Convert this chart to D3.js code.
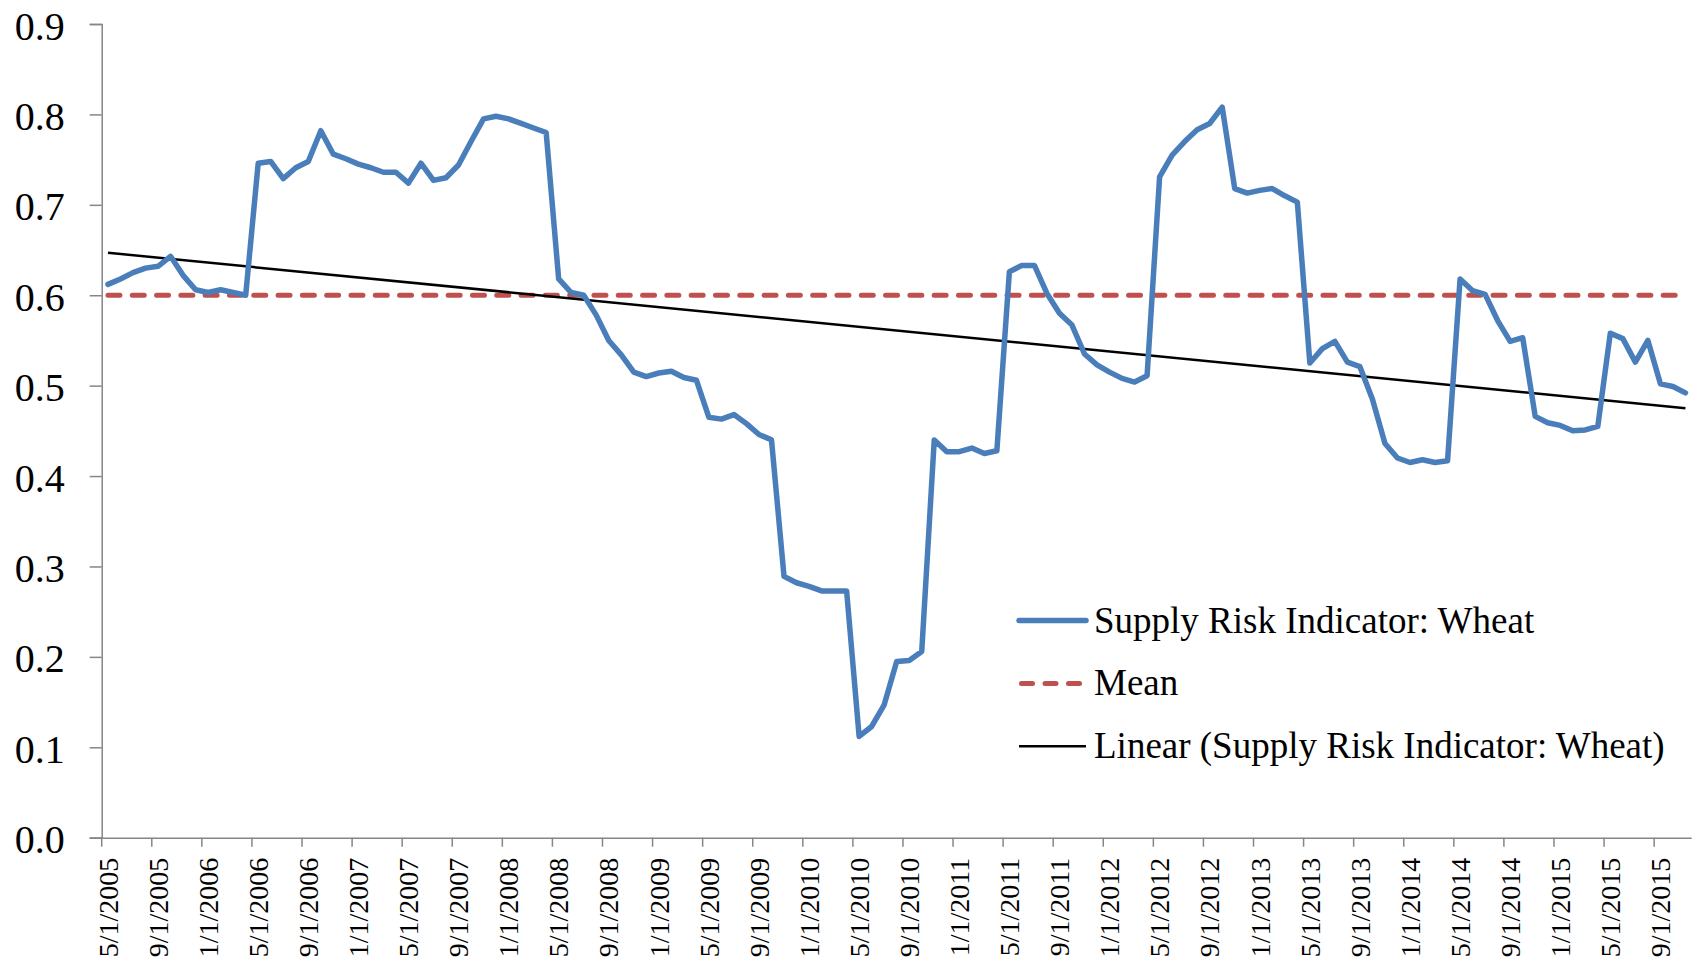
<!DOCTYPE html>
<html>
<head>
<meta charset="utf-8">
<script src="https://cdn.jsdelivr.net/npm/d3@7"></script>
<style>
  html, body { margin: 0; padding: 0; background: #fff; }
  svg { display: block; font-family: "Liberation Serif", "Times New Roman", serif; }
</style>
</head>
<body>
<div id="chart"></div>
<script>
// monthly supply risk indicator, 5/2005 .. 11/2015
const wheat = [
  0.612, 0.618, 0.625, 0.630, 0.632, 0.643, 0.622, 0.606, 0.603, 0.606, 0.603, 0.600,
  0.746, 0.748, 0.729, 0.741, 0.748, 0.782, 0.756, 0.751, 0.745, 0.741, 0.736, 0.736,
  0.724, 0.746, 0.727, 0.730, 0.744, 0.770, 0.795, 0.798, 0.795, 0.790, 0.785, 0.780,
  0.618, 0.603, 0.600, 0.578, 0.550, 0.534, 0.515, 0.510, 0.514, 0.516, 0.509, 0.506,
  0.465, 0.463, 0.468, 0.458, 0.446, 0.440, 0.289, 0.282, 0.278, 0.273, 0.273, 0.273,
  0.112, 0.123, 0.147, 0.195, 0.196, 0.206, 0.440, 0.427, 0.427, 0.431, 0.425, 0.428,
  0.626, 0.633, 0.633, 0.602, 0.580, 0.567, 0.535, 0.523, 0.515, 0.508, 0.504, 0.511,
  0.731, 0.755, 0.770, 0.783, 0.790, 0.808, 0.718, 0.713, 0.716, 0.718, 0.710, 0.703,
  0.525, 0.541, 0.549, 0.526, 0.521, 0.485, 0.436, 0.420, 0.415, 0.418, 0.415, 0.417,
  0.618, 0.605, 0.601, 0.572, 0.549, 0.553, 0.466, 0.459, 0.456, 0.450, 0.451, 0.455,
  0.558, 0.552, 0.526, 0.550, 0.502, 0.499, 0.492
];
const meanValue = 0.6;
// trend line end values
const trendStart = 0.647;
const trendEnd = 0.475;

const tickLabels = [
  "5/1/2005", "9/1/2005", "1/1/2006", "5/1/2006", "9/1/2006", "1/1/2007", "5/1/2007", "9/1/2007",
  "1/1/2008", "5/1/2008", "9/1/2008", "1/1/2009", "5/1/2009", "9/1/2009", "1/1/2010", "5/1/2010",
  "9/1/2010", "1/1/2011", "5/1/2011", "9/1/2011", "1/1/2012", "5/1/2012", "9/1/2012", "1/1/2013",
  "5/1/2013", "9/1/2013", "1/1/2014", "5/1/2014", "9/1/2014", "1/1/2015", "5/1/2015", "9/1/2015"
];
const yTicks = [0, 0.1, 0.2, 0.3, 0.4, 0.5, 0.6, 0.7, 0.8, 0.9];
const legendNames = ["Supply Risk Indicator: Wheat", "Mean", "Linear (Supply Risk Indicator: Wheat)"];

const months = d3.range(wheat.length);

const w = 1698, h = 964;
const plotLeft = 101.7, plotRight = 1691.7, plotTop = 24, plotBottom = 837.7;
const axisColor = "#868686";

const svg = d3.select("#chart").append("svg")
  .attr("width", w).attr("height", h)
  .attr("viewBox", `0 0 ${w} ${h}`);

const xScale = d3.scaleBand().domain(months).range([plotLeft, plotRight]).padding(0);
const xMid = i => xScale(i) + xScale.bandwidth() / 2;
const yScale = d3.scaleLinear().domain([0, 0.9]).range([plotBottom, plotTop]);

// y axis
const yAxis = d3.axisLeft(yScale).tickValues(yTicks).tickSize(12).tickFormat(d3.format(".1f"));
const gy = svg.append("g").attr("transform", `translate(${plotLeft},0)`).call(yAxis);
gy.select(".domain").attr("stroke", axisColor).attr("stroke-width", 1.5);
gy.selectAll(".tick line").attr("stroke", axisColor).attr("stroke-width", 1.5);
gy.selectAll(".tick text")
  .attr("x", -37).attr("dy", "15px")
  .attr("fill", "#000")
  .style("font-family", "'Liberation Serif', serif")
  .style("font-size", "40px");

// x axis: ticks every 4 months at the band start
const tickIdx = tickLabels.map((d, i) => i * 4);
const xAxis = d3.axisBottom(xScale).tickValues(tickIdx).tickSize(9).tickSizeOuter(0)
  .tickFormat((d, i) => tickLabels[i]);
const gx = svg.append("g").attr("transform", `translate(0,${plotBottom})`).call(xAxis);
gx.select(".domain").attr("stroke", axisColor).attr("stroke-width", 1.5)
  .attr("d", `M${plotLeft - 12},0.5H${plotRight}`);
gx.selectAll(".tick").attr("transform", d => `translate(${xScale(d)},0)`);
gx.selectAll(".tick line").attr("stroke", axisColor).attr("stroke-width", 1.5);
gx.selectAll(".tick text")
  .attr("fill", "#000")
  .attr("y", 0).attr("dy", 0)
  .attr("transform", "translate(16,20) rotate(-90)")
  .attr("text-anchor", "end")
  .style("font-family", "'Liberation Serif', serif")
  .style("font-size", "28px");

// mean line
svg.append("line")
  .attr("x1", xMid(0)).attr("x2", xMid(months.length - 1))
  .attr("y1", yScale(meanValue)).attr("y2", yScale(meanValue))
  .attr("stroke", "#C0504D").attr("stroke-width", 5)
  .attr("stroke-dasharray", "12,12.3").attr("stroke-linecap", "round");

// trend line
svg.append("line")
  .attr("x1", xMid(0)).attr("x2", xMid(months.length - 1))
  .attr("y1", yScale(trendStart)).attr("y2", yScale(trendEnd))
  .attr("stroke", "#000").attr("stroke-width", 2.5);

// series
const line = d3.line().x((d, i) => xMid(i)).y(d => yScale(d));
svg.append("path")
  .datum(wheat)
  .attr("d", line)
  .attr("fill", "none")
  .attr("stroke", "#4A7EBB")
  .attr("stroke-width", 5.5)
  .attr("stroke-linejoin", "round")
  .attr("stroke-linecap", "round");

// legend
const legend = svg.append("g").attr("transform", "translate(1019,620.6)");
const rowGap = 62.8;
legendNames.forEach((name, i) => {
  const g = legend.append("g").attr("transform", `translate(0,${i * rowGap})`);
  const sample = g.append("line").attr("x1", 0).attr("x2", 67).attr("y1", 0).attr("y2", 0);
  if (i === 0) {
    sample.attr("stroke", "#4A7EBB").attr("stroke-width", 5.5).attr("stroke-linecap", "round");
  } else if (i === 1) {
    sample.attr("x1", 2.5).attr("x2", 64.5)
      .attr("stroke", "#C0504D").attr("stroke-width", 5)
      .attr("stroke-dasharray", "11,12.5").attr("stroke-linecap", "round");
  } else {
    sample.attr("stroke", "#000").attr("stroke-width", 2.5);
  }
  g.append("text")
    .attr("x", 75).attr("y", 12)
    .style("font-size", "37px")
    .attr("fill", "#000")
    .text(name);
});
</script>
</body>
</html>
